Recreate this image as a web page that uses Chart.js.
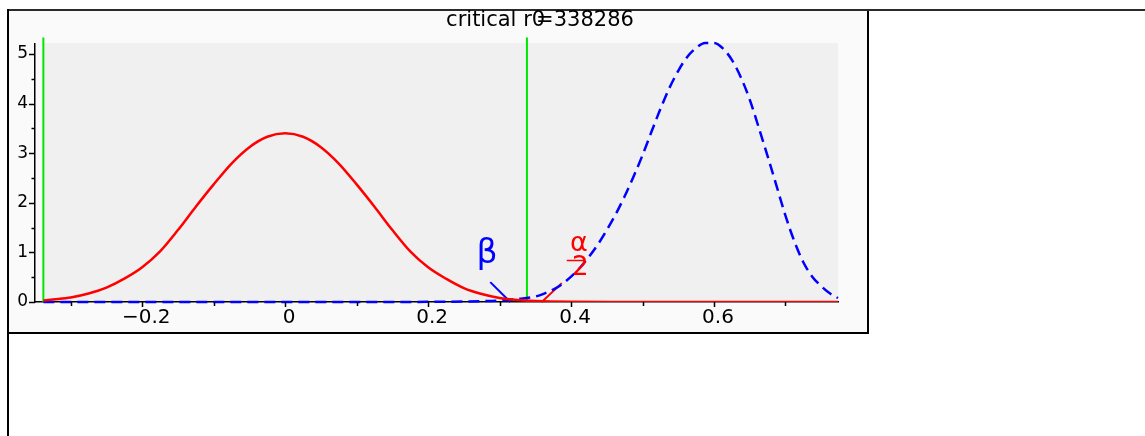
<!DOCTYPE html>
<html>
<head>
<meta charset="utf-8">
<script src="https://cdn.jsdelivr.net/npm/chart.js@4/dist/chart.umd.min.js"></script>
<style>
  html, body { margin: 0; padding: 0; background: #fff; width: 1145px; height: 436px; overflow: hidden; }
  .panel { position: absolute; left: 7px; top: 9px; width: 862px; height: 325px; box-sizing: border-box; border: 2px solid #000; background: #fafafa; }
  .rule-top { position: absolute; left: 7px; top: 9px; width: 1138px; height: 2px; background: #2a2a2a; }
  .rule-left { position: absolute; left: 7px; top: 9px; width: 2px; height: 427px; background: #000; }
  canvas { position: absolute; left: 0; top: 0; }
</style>
</head>
<body>
<div class="panel"></div>
<div class="rule-top"></div>
<div class="rule-left"></div>
<canvas id="c" width="1145" height="436"></canvas>
<script>
// Critical value of the sample correlation coefficient
const criticalR = 0.338286;

// Sampling density of r under H0 (rho = 0)
const nullR = [-0.338286, -0.325, -0.30, -0.275, -0.25, -0.225, -0.20, -0.175, -0.15, -0.125, -0.10, -0.075, -0.05, -0.025, 0,
               0.025, 0.05, 0.075, 0.10, 0.125, 0.15, 0.175, 0.20, 0.225, 0.25, 0.275, 0.30, 0.325, 0.35, 0.40, 0.45, 0.50, 0.60, 0.70, 0.7735];
const nullDensity = [0.03, 0.05, 0.09, 0.17, 0.29, 0.47, 0.70, 1.02, 1.45, 1.92, 2.37, 2.79, 3.12, 3.33, 3.40,
                     3.33, 3.12, 2.79, 2.37, 1.92, 1.45, 1.02, 0.70, 0.47, 0.28, 0.16, 0.08, 0.04, 0.02, 0.004, 0, 0, 0, 0, 0];

// Sampling density of r under the alternative
const altR = [-0.338286, 0, 0.20, 0.25, 0.30, 0.325, 0.35, 0.3625, 0.375, 0.3875, 0.40, 0.4125, 0.425, 0.4375, 0.45, 0.4625,
              0.475, 0.4875, 0.50, 0.5125, 0.525, 0.5375, 0.55, 0.5625, 0.575, 0.5875, 0.60, 0.6125, 0.625, 0.6375, 0.65,
              0.6625, 0.675, 0.6875, 0.70, 0.7125, 0.725, 0.7375, 0.75, 0.7625, 0.7735];
const altDensity = [0, 0, 0.003, 0.01, 0.03, 0.06, 0.11, 0.17, 0.25, 0.36, 0.51, 0.69, 0.91, 1.16, 1.45, 1.77,
                    2.13, 2.53, 2.96, 3.43, 3.89, 4.31, 4.66, 4.94, 5.12, 5.22, 5.22, 5.11, 4.88, 4.53, 4.08,
                    3.52, 2.94, 2.34, 1.74, 1.22, 0.80, 0.51, 0.32, 0.17, 0.08];

// Critical-value markers reach slightly above the plot top
const markerTop = 5.33;

// Tick positions and labels
const xTicks      = [-0.3, -0.2, -0.1, 0, 0.1, 0.2, 0.3, 0.4, 0.5, 0.6, 0.7];
const xTickLabels = ['', '\u22120.2', '', '0', '', '0.2', '', '0.4', '', '0.6', ''];
const yTicks      = [0, 0.5, 1, 1.5, 2, 2.5, 3, 3.5, 4, 4.5, 5];
const yTickLabels = ['0', '', '1', '', '2', '', '3', '', '4', '', '5'];

// Error-region annotations (text anchor and leader line, in data units)
const betaText    = { text: '\u03b2', x: 0.2825, y: 0.95 };
const betaLeader  = { x: [0.287, 0.315], y: [0.40, 0] };
const alphaNum    = { text: '\u03b1', x: 0.411, y: 1.17 };
const alphaBar    = { x: [0.394, 0.420], y: 0.85 };
const alphaDen    = { text: '2', x: 0.413, y: 0.68 };
const alphaLeader = { x: [0.387, 0.359], y: [0.38, 0] };

const titleText = ['critical r0', '=', '338286'];

const pts = (xs, ys) => xs.map((v, i) => ({ x: v, y: ys[i] }));
const FONT = '"DejaVu Sans", sans-serif';

const decor = {
  id: 'decor',
  beforeDraw(chart) {
    const { ctx, chartArea: a, scales: { x } } = chart;
    const left = x.getPixelForValue(nullR[0]);
    ctx.save();
    ctx.fillStyle = '#f0f0f0';
    ctx.fillRect(left, a.top - 1, a.right - left, a.bottom - a.top + 1);
    ctx.restore();
  },
  afterDraw(chart) {
    const { ctx, chartArea: a, scales: { x, y } } = chart;
    ctx.save();
    // tick marks
    ctx.strokeStyle = '#000';
    ctx.lineWidth = 1.5;
    xTicks.forEach((v, i) => {
      const px = Math.round(x.getPixelForValue(v)) + 0.5;
      const len = xTickLabels[i] ? 5 : 4;
      ctx.beginPath(); ctx.moveTo(px, a.bottom); ctx.lineTo(px, a.bottom + len); ctx.stroke();
    });
    yTicks.forEach((v, i) => {
      const py = Math.round(y.getPixelForValue(v)) + 0.5;
      const len = yTickLabels[i] ? 6 : 3.5;
      ctx.beginPath(); ctx.moveTo(a.left, py); ctx.lineTo(a.left - len, py); ctx.stroke();
    });

    // beta label
    ctx.fillStyle = '#0000ff';
    ctx.font = '33px ' + FONT;
    ctx.textAlign = 'center';
    ctx.textBaseline = 'middle';
    ctx.fillText(betaText.text, x.getPixelForValue(betaText.x), y.getPixelForValue(betaText.y));

    // alpha / 2 label
    ctx.fillStyle = '#ff0000';
    ctx.font = '27px ' + FONT;
    ctx.fillText(alphaNum.text, x.getPixelForValue(alphaNum.x), y.getPixelForValue(alphaNum.y));
    ctx.font = '26px ' + FONT;
    ctx.fillText(alphaDen.text, x.getPixelForValue(alphaDen.x), y.getPixelForValue(alphaDen.y));
    ctx.strokeStyle = '#ff0000';
    ctx.lineWidth = 1.5;
    const by = Math.round(y.getPixelForValue(alphaBar.y)) + 0.5;
    ctx.beginPath();
    ctx.moveTo(x.getPixelForValue(alphaBar.x[0]), by);
    ctx.lineTo(x.getPixelForValue(alphaBar.x[1]), by);
    ctx.stroke();

    // title
    ctx.fillStyle = '#000';
    ctx.font = '21px ' + FONT;
    ctx.textAlign = 'left';
    ctx.textBaseline = 'alphabetic';
    const w0 = ctx.measureText(titleText[0]).width;
    const w1 = ctx.measureText(titleText[1]).width;
    const w2 = ctx.measureText(titleText[2]).width;
    const overlap = 9;
    const total = w0 + w1 + w2 - overlap;
    const tx = 540 - total / 2;
    const ty = 26;
    ctx.fillText(titleText[0], tx, ty);
    ctx.fillText(titleText[1], tx + w0 - overlap, ty);
    ctx.fillText(titleText[2], tx + w0 - overlap + w1, ty);
    ctx.restore();
  }
};

new Chart(document.getElementById('c'), {
  type: 'line',
  data: {
    datasets: [
      { data: pts(nullR, nullDensity), borderColor: '#ff0000', borderWidth: 2.5, pointRadius: 0, cubicInterpolationMode: 'monotone', fill: false },
      { data: pts(altR, altDensity), borderColor: '#0000ff', borderWidth: 2.5, borderDash: [11, 6], pointRadius: 0, cubicInterpolationMode: 'monotone', fill: false, clip: false },
      { data: pts([-criticalR, -criticalR], [0, markerTop]), borderColor: '#00e800', borderWidth: 2, pointRadius: 0, clip: false },
      { data: pts([criticalR, criticalR], [0, markerTop]), borderColor: '#00e800', borderWidth: 2, pointRadius: 0, clip: false },
      { data: pts(betaLeader.x, betaLeader.y), borderColor: '#0000ff', borderWidth: 2, pointRadius: 0, clip: false },
      { data: pts(alphaLeader.x, alphaLeader.y), borderColor: '#ff0000', borderWidth: 2, pointRadius: 0, clip: false }
    ]
  },
  options: {
    responsive: false,
    animation: false,
    events: [],
    layout: { padding: { left: 0, top: 44, right: 307, bottom: 0 } },
    plugins: { legend: { display: false }, tooltip: { enabled: false } },
    scales: {
      x: {
        type: 'linear',
        min: -0.35,
        max: 0.7735,
        z: 1,
        grid: { drawOnChartArea: false, drawTicks: false },
        border: { color: '#000', width: 1.5 },
        afterBuildTicks: s => { s.ticks = xTicks.map(v => ({ value: v })); },
        afterFit: s => { s.height = 134; },
        ticks: {
          autoSkip: false, maxRotation: 0, padding: 4, labelOffset: 4, color: '#000',
          font: { family: FONT, size: 20 },
          callback: (v, i) => xTickLabels[i]
        }
      },
      y: {
        min: 0,
        max: 5.2,
        grid: { drawOnChartArea: false, drawTicks: false },
        border: { color: '#000', width: 1.5 },
        afterBuildTicks: s => { s.ticks = yTicks.map(v => ({ value: v })); },
        afterFit: s => { s.width = 35; },
        ticks: {
          autoSkip: false, padding: 7, color: '#000',
          font: { family: FONT, size: 17 },
          callback: (v, i) => yTickLabels[i]
        }
      }
    }
  },
  plugins: [decor]
});
</script>
</body>
</html>
